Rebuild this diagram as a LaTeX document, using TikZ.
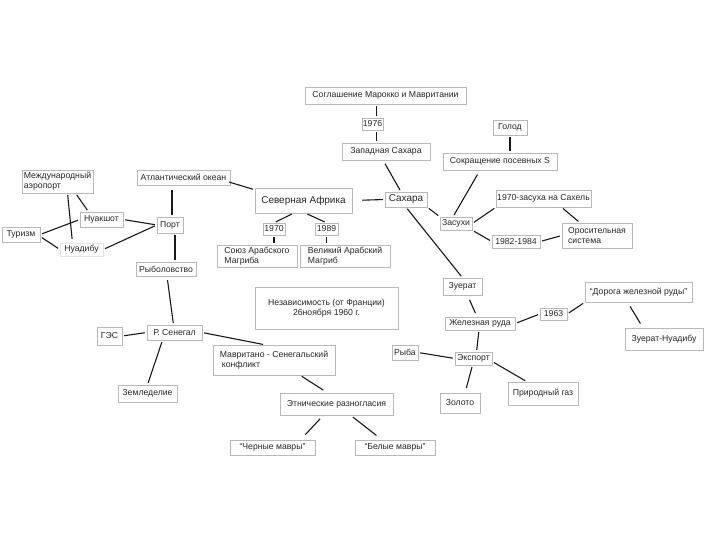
\documentclass[tikz,border=0pt]{standalone}
\usepackage{fontspec}
\setmainfont{Liberation Sans}
\usetikzlibrary{shadows}
\tikzset{
 bx/.style={draw=black!28, fill=white, inner sep=1bp, align=left,
   font=\fontsize{8.7}{10.2}\selectfont, text=black!85,
   drop shadow={shadow xshift=1.2bp, shadow yshift=-1.2bp, fill=black!15, opacity=1}},
 big/.style={font=\fontsize{10}{12}\selectfont},
 sz/.style 2 args={minimum width=#1bp, minimum height=#2bp},
 ln/.style={line width=1.1bp, black!90, shorten >=2bp, shorten <=2bp},
}
\begin{document}
\begin{tikzpicture}[x=1bp,y=-1bp]
\useasboundingbox[fill=white] (0,0) rectangle (720,540);
% top chain
\node[bx, sz={161}{17}] (soglas) at (385.5,95.5) {Соглашение Марокко и Мавритании};
\node[bx, sz={21}{12}] (y1976) at (372.5,124) {1976};
\node[bx, sz={88}{17}] (zapsah) at (386,151.5) {Западная Сахара};
\node[bx, big, sz={42}{15}] (sahara) at (406,199.5) {Сахара};
\node[bx, sz={34}{15}] (golod) at (510,127.5) {Голод};
\node[bx, sz={114}{17}] (sokr) at (500,161.5) {Сокращение посевных S};
\node[bx, sz={93}{17}] (sahel) at (543.5,198.5) {1970-засуха на Сахель};
\node[bx, sz={32}{13}] (zasuhi) at (456,223.5) {Засухи};
\node[bx, sz={48}{13}] (y8284) at (516,241.5) {1982-1984};
\node[bx, sz={70}{25}] (oros) at (597,235.5) {Оросительная\\система};
% right middle
\node[bx, sz={39}{17}] (zuerat) at (462.5,286.5) {Зуерат};
\node[bx, sz={70}{13}] (zhel) at (480,323.5) {Железная руда};
\node[bx, sz={27}{12}] (y1963) at (553.5,314) {1963};
\node[bx, sz={107}{20}] (doroga) at (638.5,292) {“Дорога железной руды”};
\node[bx, sz={78}{22}] (zn) at (664,339) {Зуерат-Нуадибу};
\node[bx, sz={37}{13}] (eksport) at (473.5,358.5) {Экспорт};
\node[bx, sz={26}{15}] (ryba) at (405,352.5) {Рыба};
\node[bx, sz={40}{20}] (zoloto) at (460,403) {Золото};
\node[bx, sz={70}{23}] (gaz) at (543,393.5) {Природный газ};
% centre
\node[bx, align=center, sz={143}{42}] (nezav) at (326.5,308) {Независимость (от Франции)\\26ноября 1960 г.};
\node[bx, big, sz={97}{25}] (sevaf) at (303.5,200.5) {Северная Африка};
\node[bx, sz={22}{12}] (y1970) at (274,229) {1970};
\node[bx, sz={23}{12}] (y1989) at (326.5,229) {1989};
\node[bx, sz={80}{22}] (soyuz) at (257,256) {Союз Арабского\\Магриба};
\node[bx, sz={90}{22}] (velik) at (345,256) {Великий Арабский\\Магриб};
% left
\node[bx, sz={93}{15}] (atl) at (183.5,177.5) {Атлантический океан};
\node[bx, sz={26}{16}] (port) at (170,225) {Порт};
\node[bx, sz={60}{14}] (ryblov) at (166,269) {Рыболовство};
\node[bx, sz={71}{23}] (aero) at (57.5,181.5) {Международный\\аэропорт};
\node[bx, sz={43}{15}] (nuak) at (101.5,219.5) {Нуакшот};
\node[bx, sz={38}{15}] (turizm) at (21,234.5) {Туризм};
\node[bx, draw=black!10, sz={43}{13}] (nuad) at (81.5,249.5) {Нуадибу};
% bottom left
\node[bx, sz={55}{15}] (senegal) at (174.5,332.5) {Р. Сенегал};
\node[bx, sz={25}{18}] (ges) at (109.5,336) {ГЭС};
\node[bx, sz={59}{17}] (zemled) at (147.5,393.5) {Земледелие};
\node[bx, sz={122}{30}] (konfl) at (274,360) {Мавритано - Сенегальский\\\hspace{2bp}конфликт};
\node[bx, sz={113}{22}] (etn) at (336.5,404) {Этнические разногласия};
\node[bx, sz={85}{15}] (cher) at (272.5,447.5) {“Черные мавры”};
\node[bx, sz={80}{15}] (bel) at (395,447.5) {“Белые мавры”};
% connectors
\draw[ln] ([xshift=4bp]y1976.north) -- ([xshift=4bp]y1976.north |- soglas.south);
\draw[ln] ([xshift=4bp]y1976.south) -- ([xshift=4bp]y1976.south |- zapsah.north);
\draw[ln, shorten <=4bp] ([xshift=-3bp]zapsah.south) -- ([xshift=-5bp]sahara.north);
\draw[ln, shorten <=10bp] (sevaf.east) -- (sahara.west);
\draw[ln] ([xshift=-3bp,yshift=-4bp]atl.east) -- ([yshift=-2bp]sevaf.north west);
\draw[ln] ([xshift=-10bp]sevaf.south) -- (y1970.north);
\draw[ln] ([xshift=2bp]sevaf.south) -- (y1989.north);
\draw[ln] (y1970.south) -- (y1970.south |- soyuz.north);
\draw[ln] (y1989.south) -- (y1989.south |- velik.north);
\draw[ln, shorten <=5bp] ([xshift=2bp]port.north |- atl.south) -- ([xshift=2bp]port.north);
\draw[ln] ([xshift=5bp]port.south) -- ([xshift=5bp]port.south |- ryblov.north);
\draw[ln, shorten <=4bp] ([xshift=1bp]ryblov.south) -- ([xshift=-1bp]senegal.north);
\draw[ln] (nuak.east) -- (port.west);
\draw[ln] (nuad.east) -- (port.west);
\draw[ln] (turizm.east) -- (nuak.west);
\draw[ln] ([yshift=-2bp]turizm.east) -- (nuad.west);
\draw[ln] ([xshift=18bp]aero.south) -- ([xshift=-13bp]nuak.north);
\draw[ln, shorten >=4bp] ([xshift=10bp]aero.south) -- ([xshift=-9bp]nuad.north);
\draw[ln] (ges.east) -- (senegal.west);
\draw[ln] ([xshift=-12bp]senegal.south) -- (zemled.north);
\draw[ln] (senegal.east) -- ([xshift=-9bp]konfl.north);
\draw[ln, shorten >=5bp] ([xshift=26bp]konfl.south) -- ([xshift=-9bp]etn.north);
\draw[ln, shorten <=5bp, shorten >=7bp] ([xshift=-13bp]etn.south) -- ([xshift=28bp]cher.north);
\draw[ln, shorten <=3bp, shorten >=7bp] ([xshift=14bp]etn.south) -- ([xshift=-13bp]bel.north);
\draw[ln] (sahara.south east) -- (zasuhi.north west);
\draw[ln, shorten <=5bp] ([xshift=-20bp]sokr.south) -- ([xshift=-3bp]zasuhi.north);
\draw[ln] (golod.south) -- (golod.south |- sokr.north);
\draw[ln] (zasuhi.east) -- (sahel.south west);
\draw[ln] (zasuhi.south east) -- (y8284.west);
\draw[ln] (y8284.east) -- (oros.west);
\draw[ln] ([xshift=18bp]sahel.south) -- ([xshift=-17bp]oros.north);
\draw[ln] (sahara.south) -- (zuerat.north);
\draw[ln, shorten <=5bp, shorten >=4bp] ([xshift=5bp]zuerat.south) -- ([xshift=-3bp]zhel.north);
\draw[ln] (zhel.east) -- (y1963.west);
\draw[ln] (y1963.east) -- (doroga.south west);
\draw[ln, shorten <=5bp, shorten >=5bp] ([xshift=-11bp]doroga.south) -- ([xshift=-21bp]zn.north);
\draw[ln] ([xshift=-1bp]zhel.south) -- ([xshift=3bp]eksport.north);
\draw[ln] (ryba.east) -- (eksport.west);
\draw[ln, shorten >=5bp] ([xshift=-1bp]eksport.south) -- ([xshift=5bp]zoloto.north);
\draw[ln] ([yshift=-3bp]eksport.east) -- ([xshift=-16bp]gaz.north);
\end{tikzpicture}
\end{document}
